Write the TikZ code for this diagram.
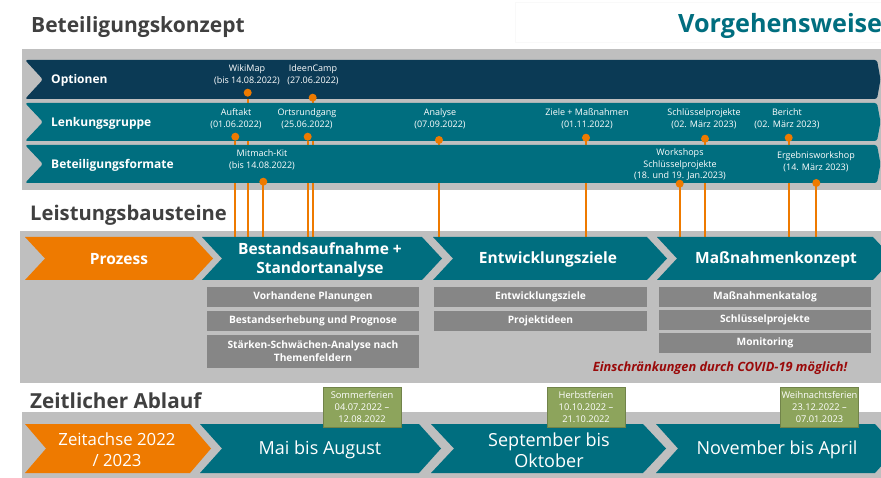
\documentclass[tikz,border=0pt]{standalone}
\usepackage{fontspec}
\setmainfont{Open Sans}
\definecolor{navy}{HTML}{0B3A55}
\definecolor{teal}{HTML}{006E7F}
\definecolor{orng}{HTML}{EE7A00}
\definecolor{panel}{HTML}{BFBFBF}
\definecolor{subgray}{HTML}{868686}
\definecolor{olive}{HTML}{8DA45C}
\definecolor{darkred}{HTML}{9A0A0A}
\definecolor{titlegray}{HTML}{404040}
\newcommand\chevfill[6]{\fill[#1] (#2,#4) -- (#3,#4) -- ({#3+#6},{(#4+#5)/2}) -- (#3,#5) -- (#2,#5) -- ({#2+#6},{(#4+#5)/2}) -- cycle;}
\tikzset{
  title/.style={anchor=base west, inner sep=0pt, text=titlegray, font=\fontsize{21}{24}\selectfont\bfseries},
  bandlabel/.style={anchor=west, inner sep=0pt, text=white, font=\fontsize{12}{14}\selectfont\bfseries},
  event/.style={align=center, inner sep=0pt, text=white, font=\fontsize{9}{11.8}\selectfont},
  dot/.style={circle, fill=orng, minimum size=8pt, inner sep=0pt},
  ol/.style={draw=orng, line width=2.2pt},
  proc/.style={align=center, inner sep=0pt, text=white, font=\fontsize{15.5}{19.5}\selectfont\bfseries},
  sub/.style={fill=subgray, text=white, align=center, inner sep=0pt, minimum height=20pt, font=\fontsize{10.2}{13}\selectfont\bfseries},
  time/.style={align=center, inner sep=0pt, text=white, font=\fontsize{18}{21.5}\selectfont},
  ferien/.style={fill=olive, draw=olive!80!black, line width=0.4pt, text=white, align=center, inner sep=0pt, minimum width=78pt, minimum height=40pt, font=\fontsize{9.3}{11.8}\selectfont},
}
\begin{document}
\begin{tikzpicture}[x=1pt,y=-1pt]
\useasboundingbox (0,0) rectangle (881,478);
\fill[white] (0,0) rectangle (881,478);
% header box behind Vorgehensweise
\draw[gray!5, line width=0.5pt] (515,2) rectangle (885,42);
% titles
\node[title] (t1) at (31,33) {Beteiligungskonzept};
\node[title, text=teal, font=\fontsize{25.2}{28}\selectfont\bfseries] (t2) at (678,33) {Vorgehensweise};
\node[title, font=\fontsize{20.2}{24}\selectfont\bfseries] (t3) at (30,221) {Leistungsbausteine};
\node[title, font=\fontsize{20.7}{24}\selectfont\bfseries] (t4) at (30,408) {Zeitlicher Ablauf};
% panels
\fill[panel] (22,49) rectangle (881,190);
\fill[panel] (20,231) rectangle (881,383);
\fill[panel] (22,412) rectangle (881,478);
% event coordinates
\coordinate (cWiki) at (247.7,92.7);
\coordinate (cIdeen) at (312.7,97.7);
\coordinate (cAuf) at (235.3,136.7);
\coordinate (cOrts) at (307.7,136.7);
\coordinate (cAna) at (439,140);
\coordinate (cMit) at (263.3,181.7);
\coordinate (cZiele) at (586,137.7);
\coordinate (cSchl) at (705,138.7);
\coordinate (cBer) at (788.7,137.7);
\coordinate (cWork) at (679.7,183.7);
\coordinate (cErg) at (816.3,183);
% connectors down to the process row
\foreach \c in {cWiki,cIdeen,cAuf,cOrts,cAna,cMit,cZiele,cSchl,cBer,cWork,cErg}{
  \coordinate (\c-end) at (\c |- 0,238);
  \draw[ol] (\c) -- (\c-end);
}
% top bands
\fill[navy, rounded corners=2.5pt] (25,60) -- (877,60) -- (880.5,79.5) -- (877,99) -- (25,99) -- (43,79.5) -- cycle;
\fill[teal, rounded corners=2.5pt] (25,103) -- (877,103) -- (880.5,122) -- (877,141) -- (25,141) -- (43,122) -- cycle;
\fill[teal, rounded corners=2.5pt] (25,145) -- (877,145) -- (880.5,164) -- (877,183) -- (25,183) -- (43,164) -- cycle;
\node[bandlabel] (lOpt) at (51,80) {Optionen};
\node[bandlabel] (lLenk) at (51,123) {Lenkungsgruppe};
\node[bandlabel] (lBet) at (51,165) {Beteiligungsformate};
% event labels
\node[event] (eWiki) at (247,75) {WikiMap\\(bis 14.08.2022)};
\node[event] (eIdeen) at (313,75) {IdeenCamp\\(27.06.2022)};
\node[event] (eAuf) at (236,119) {Auftakt\\(01.06.2022)};
\node[event] (eOrts) at (307,119) {Ortsrundgang\\(25.06.2022)};
\node[event] (eAna) at (440,119) {Analyse\\(07.09.2022)};
\node[event] (eZiele) at (587,119) {Ziele + Maßnahmen\\(01.11.2022)};
\node[event] (eSchl) at (704,119) {Schlüsselprojekte\\(02. März 2023)};
\node[event] (eBer) at (787,119) {Bericht\\(02. März 2023)};
\node[event] (eMit) at (262,160) {Mitmach-Kit\\(bis 14.08.2022)};
\node[event, font=\fontsize{9}{11.5}\selectfont] (eWork) at (680,164.5) {Workshops\\Schlüsselprojekte\\(18. und 19. Jan.2023)};
\node[event] (eErg) at (816,161.5) {Ergebnisworkshop\\(14. März 2023)};
% dots
\foreach \c in {cWiki,cIdeen,cAuf,cOrts,cAna,cMit,cZiele,cSchl,cBer,cWork,cErg}{
  \node[dot] (\c-dot) at (\c) {};
}
% process chevrons
\chevfill{orng}{25}{193}{237}{280}{20}
\chevfill{teal}{202}{422}{237}{280}{20}
\chevfill{teal}{433}{647}{237}{280}{20}
\begin{scope}
\clip (0,0) rectangle (881,478);
\chevfill{teal}{657}{873}{237}{280}{20}
\chevfill{teal}{656}{875}{424}{473}{22}
\end{scope}
\node[proc] (pProz) at (119,259) {Prozess};
\node[proc] (pBest) at (320,260) {Bestandsaufnahme +\\Standortanalyse};
\node[proc] (pEntw) at (548,259) {Entwicklungsziele};
\node[proc] (pMass) at (776,259) {Maßnahmenkonzept};
% sub boxes
\node[sub, minimum width=212pt] (s11) at (313,297) {Vorhandene Planungen};
\node[sub, minimum width=212pt] (s12) at (313,321) {Bestandserhebung und Prognose};
\node[sub, minimum width=212pt, minimum height=33pt] (s13) at (313,351.5) {Stärken-Schwächen-Analyse nach\\Themenfeldern};
\node[sub, minimum width=213pt] (s21) at (540.5,297) {Entwicklungsziele};
\node[sub, minimum width=213pt] (s22) at (540.5,321) {Projektideen};
\node[sub, minimum width=212pt] (s31) at (765,297) {Maßnahmenkatalog};
\node[sub, minimum width=212pt] (s32) at (765,320) {Schlüsselprojekte};
\node[sub, minimum width=212pt] (s33) at (765,343) {Monitoring};
\node[inner sep=0pt, text=darkred, font=\fontsize{12.8}{14}\selectfont\bfseries\itshape] (covid) at (720,368) {Einschränkungen durch COVID-19 möglich!};
% time chevrons
\chevfill{orng}{25}{190}{424}{473}{21}
\chevfill{teal}{200}{419}{424}{473}{22}
\chevfill{teal}{431}{643}{424}{473}{23}
\node[time, font=\fontsize{16.8}{21}\selectfont] (z0) at (117,450) {Zeitachse 2022\\/ 2023};
\node[time] (z1) at (320,450) {Mai bis August};
\node[time] (z2) at (549,450) {September bis\\Oktober};
\node[time] (z3) at (777,450) {November bis April};
% holidays
\node[ferien] (f1) at (362,407) {Sommerferien\\04.07.2022 –\\12.08.2022};
\node[ferien] (f2) at (586,407) {Herbstferien\\10.10.2022 –\\21.10.2022};
\node[ferien] (f3) at (819.5,407) {Weihnachtsferien\\23.12.2022 –\\07.01.2023};
\end{tikzpicture}
\end{document}
